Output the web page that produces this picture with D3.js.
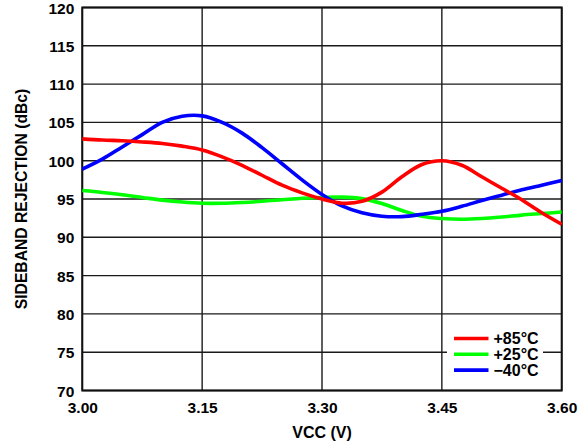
<!DOCTYPE html>
<html><head><meta charset="utf-8">
<script src="https://cdn.jsdelivr.net/npm/d3@7"></script>
<style>
body{margin:0;background:#fff;}
text{font-family:"Liberation Sans",Arial,sans-serif;font-weight:bold;fill:#000;}
</style></head>
<body><svg id="c" width="588" height="446"></svg>
<script>
const vcc = [3.000,3.025,3.050,3.075,3.100,3.125,3.150,3.175,3.200,3.225,3.250,3.275,3.300,3.325,3.350,3.375,3.400,3.425,3.450,3.475,3.500,3.525,3.550,3.575,3.600];
const t85 = [102.85,102.7,102.6,102.45,102.25,101.9,101.4,100.5,99.4,98.1,96.8,95.8,95.0,94.45,94.7,95.9,97.9,99.5,100.0,99.4,97.9,96.4,94.9,93.2,91.7];
const t25 = [96.1,95.85,95.55,95.2,94.85,94.6,94.45,94.45,94.55,94.7,94.9,95.1,95.2,95.25,95.05,94.4,93.5,92.75,92.45,92.35,92.45,92.65,92.9,93.1,93.3];
const tm40 = [98.9,100.2,101.8,103.4,105.0,105.8,105.85,105.0,103.6,101.7,99.6,97.5,95.6,94.1,93.2,92.75,92.7,93.0,93.4,94.05,94.8,95.5,96.2,96.8,97.4];
const seriesNames = ["+85°C","+25°C","\u221240°C"];
const seriesColors = ["#ff0000","#00ff00","#0000ff"];
const xTicks = [3.00,3.15,3.30,3.45,3.60];
const yTicks = [70,75,80,85,90,95,100,105,110,115,120];
const xTitle = "VCC (V)";
const yTitle = "SIDEBAND REJECTION (dBc)";

const svg = d3.select("#c");
const L=82.3,R=561.7,T=7.5,B=390.5;
const x = d3.scaleLinear().domain([3.0,3.6]).range([L,R]);
const y = d3.scaleLinear().domain([70,120]).range([B,T]);

const g = svg.append("g");
g.selectAll(".hg").data(yTicks).enter().append("line")
 .attr("x1",L).attr("x2",R).attr("y1",d=>y(d)).attr("y2",d=>y(d))
 .attr("stroke","#1a1a1a").attr("stroke-width",1.4);
g.selectAll(".vg").data(xTicks).enter().append("line")
 .attr("y1",T).attr("y2",B).attr("x1",d=>x(d)).attr("x2",d=>x(d))
 .attr("stroke","#1a1a1a").attr("stroke-width",1.4);
g.append("rect").attr("x",L).attr("y",T).attr("width",R-L).attr("height",B-T)
 .attr("fill","none").attr("stroke","#111").attr("stroke-width",2);

const xAxis = d3.axisBottom(x).tickValues(xTicks).tickFormat(d3.format(".2f")).tickSize(0).tickPadding(0);
const xa = svg.append("g").attr("transform",`translate(0,${B})`).call(xAxis);
xa.select(".domain").remove();
xa.selectAll("text").attr("dy",null).attr("y",22.5).style("font-size","15.5px").style("font-family","'Liberation Sans',Arial,sans-serif").style("font-weight","bold").attr("fill","#000");
const yAxis = d3.axisLeft(y).tickValues(yTicks).tickSize(0).tickPadding(0);
const ya = svg.append("g").attr("transform",`translate(${L},0)`).call(yAxis);
ya.select(".domain").remove();
ya.selectAll("text").attr("x",-8).attr("dy","0.36em").style("font-size","15.5px").style("font-family","'Liberation Sans',Arial,sans-serif").style("font-weight","bold").attr("fill","#000");

svg.append("text").attr("x",(L+R)/2).attr("y",438).attr("text-anchor","middle").style("font-size","16px").text(xTitle);
svg.append("text").attr("transform",`translate(26.5,${(T+B)/2 + 0}) rotate(-90)`).attr("text-anchor","middle").style("font-size","15.7px").text(yTitle);

const line = d3.line().x((d,i)=>x(vcc[i])).y(d=>y(d)).curve(d3.curveCatmullRom.alpha(0.5));
const data = [t85,t25,tm40];
[1,2,0].forEach(i=>{
  svg.append("path").datum(data[i]).attr("d",line).attr("fill","none")
   .attr("stroke",seriesColors[i]).attr("stroke-width",3.6).attr("stroke-linejoin","round");
});

const lg = svg.append("g");
lg.append("rect").attr("x",447).attr("y",326).attr("width",96).attr("height",54).attr("fill","#fff");
seriesNames.forEach((n,i)=>{
  const yy = 338.5 + i*15.8;
  lg.append("line").attr("x1",454).attr("x2",488.5).attr("y1",yy).attr("y2",yy)
    .attr("stroke",seriesColors[i]).attr("stroke-width",3.6);
  lg.append("text").attr("x",493.5).attr("y",yy+5.8).style("font-size","16px").text(n);
});
</script></body></html>
